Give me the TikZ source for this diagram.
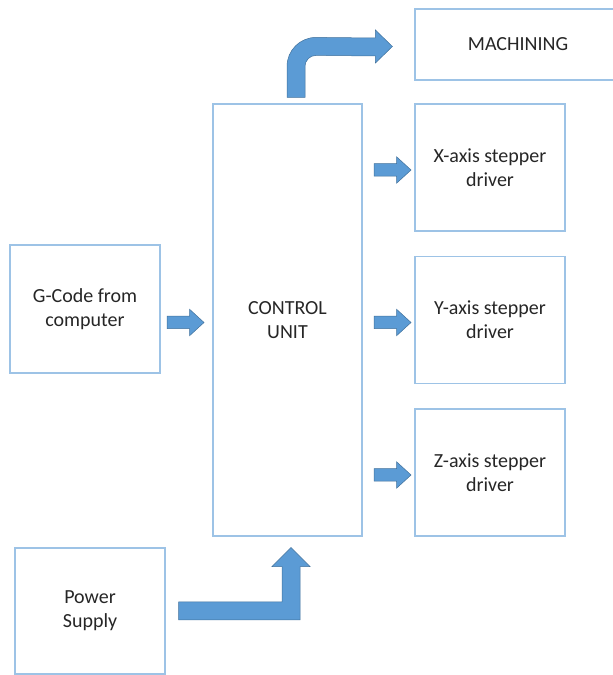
\documentclass[tikz,border=0pt]{standalone}
\usepackage{fontspec}
\setmainfont{Carlito}
\usetikzlibrary{positioning,calc,shapes.arrows}
\definecolor{boxline}{HTML}{9DC3E6}
\definecolor{arrowblue}{HTML}{5B9BD5}
\definecolor{arrowedge}{HTML}{41719C}

\begin{document}
\begin{tikzpicture}[
    x=1pt, y=1pt,
    node distance=24.3pt and 51.8pt,
    box/.style={draw=boxline, line width=1.2pt, align=center, minimum width=150pt, minimum height=127pt, inner sep=0pt, text=black!85, font=\fontsize{20}{24}\selectfont},
    blockarrow/.style={single arrow, draw=arrowedge, fill=arrowblue, line width=0.5pt, inner sep=0pt, text height=12pt, text depth=0pt, minimum height=37pt, single arrow head extend=7pt, single arrow tip angle=85},
    bent/.style={draw=arrowedge, fill=arrowblue, line width=0.5pt, line join=miter}
]
\useasboundingbox (0,0) rectangle (613,675);
\node[box, minimum width=149pt, minimum height=432pt] (control) at (287.5,355) {CONTROL\\UNIT};
\node[box, below right=0pt and 51.8pt of control.north east] (xdrv) {X-axis stepper\\driver};
\node[box, below=of xdrv] (ydrv) {Y-axis stepper\\driver};
\node[box, below=of ydrv] (zdrv) {Z-axis stepper\\driver};
\node[box, minimum width=206pt, minimum height=71pt, above right=22.8pt and 0pt of xdrv.north west] (machining) {MACHINING};
\node[box, minimum height=128pt] (gcode) at (85,366) {G-Code from\\computer};
\node[box, minimum height=126pt] (power) at (90,64) {Power\\Supply};
% straight arrows
\node[blockarrow, anchor=tip] (togcode) at ($(control.west)+(-8,-2.5)$) {};
\foreach \d in {xdrv,ydrv,zdrv}
  \node[blockarrow, anchor=tip] (to\d) at ($(\d.west)+(-3,-2.5)$) {};
% bent arrow to machining
\coordinate (m0) at ($(control.north)+(-0.5,6)$);
\coordinate (m1) at ($(machining.west)+(-22,-2)$);
\path[bent] (m0) -- ++(0,31) arc[start angle=180, end angle=90, radius=29]
    -- ($(m1)+(-17,8.5)$) -- ++(0,8) -- (m1) -- ($(m1)+(-17,-16.5)$) -- ++(0,7)
    -- ($(m0)+(29,42)$) arc[start angle=90, end angle=180, radius=11]
    -- ($(m0)+(18,0)$) -- cycle;
% bent arrow from power supply
\coordinate (p0) at ($(power.east)+(13,0)$);
\coordinate (p1) at ($(control.south)+(3.5,-11)$);
\path[bent] ($(p0)+(0,-9)$) -- ($(p1 |- p0)+(9,-9)$) -- ($(p1)+(9,-19)$) -- ($(p1)+(19,-19)$)
    -- (p1) -- ($(p1)+(-19,-19)$) -- ($(p1)+(-9,-19)$) -- ($(p1 |- p0)+(-9,9)$)
    -- ($(p0)+(0,9)$) -- cycle;
\end{tikzpicture}
\end{document}
